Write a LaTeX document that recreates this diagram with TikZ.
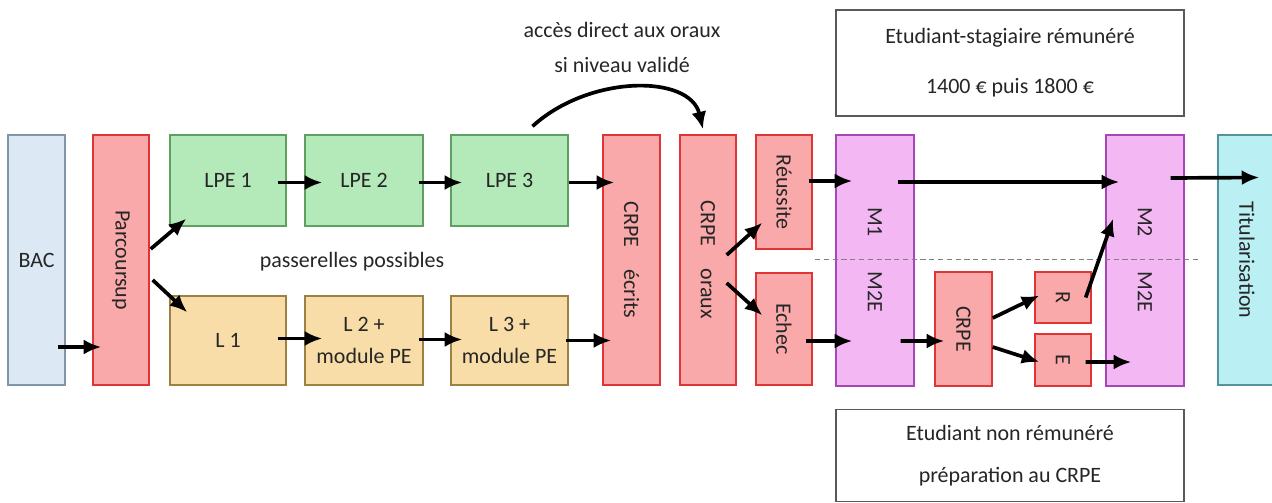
\documentclass[tikz,border=0pt]{standalone}
\usepackage{fontspec}
\setmainfont{Carlito}
\usetikzlibrary{calc,arrows.meta}
\definecolor{bacfill}{HTML}{DCE9F5}
\definecolor{bacline}{HTML}{8096A8}
\definecolor{redfill}{HTML}{F9A9A9}
\definecolor{redline}{HTML}{E03535}
\definecolor{greenfill}{HTML}{B4E9B9}
\definecolor{greenline}{HTML}{5F9F5F}
\definecolor{yellowfill}{HTML}{F8DDA8}
\definecolor{yellowline}{HTML}{9C8242}
\definecolor{mfill}{HTML}{F3B7F4}
\definecolor{mline}{HTML}{A547B5}
\definecolor{titfill}{HTML}{BAF0F4}
\definecolor{titline}{HTML}{55939A}
\definecolor{txt}{HTML}{262626}
\tikzset{
  box/.style={draw, line width=0.8pt, inner sep=0pt, align=center},
  bluebox/.style={box, draw=bacline, fill=bacfill},
  redbox/.style={box, draw=redline, fill=redfill},
  greenbox/.style={box, draw=greenline, fill=greenfill},
  yellowbox/.style={box, draw=yellowline, fill=yellowfill},
  mbox/.style={box, draw=mline, fill=mfill},
  titbox/.style={box, draw=titline, fill=titfill},
  plainbox/.style={box, draw=black!65, fill=white},
  vlabel/.style={label={[rotate=-90]center:#1}},
  flow/.style={-{Latex[length=10pt,width=8.5pt]}, line width=2.1pt},
}
\begin{document}
\begin{tikzpicture}[x=0.02cm,y=-0.02cm,font=\fontsize{12.5pt}{15pt}\selectfont,
  every node/.append style={text=txt}]
\useasboundingbox (0,0) rectangle (1272,503);
% left side
\node[bluebox, minimum width=1.14cm, minimum height=5cm] (bac) at (36.5,260) {BAC};
\node[redbox, minimum width=1.12cm, minimum height=5cm, vlabel=Parcoursup] (parc) at (121,260) {};
\node[greenbox, minimum width=2.32cm, minimum height=1.82cm] (lpe1) at (228,180.5) {LPE 1};
\node[greenbox, minimum width=2.36cm, minimum height=1.82cm] (lpe2) at (364,180.5) {LPE 2};
\node[greenbox, minimum width=2.34cm, minimum height=1.82cm] (lpe3) at (509.5,180.5) {LPE 3};
\node[yellowbox, minimum width=2.32cm, minimum height=1.78cm] (l1) at (228,340.5) {L 1};
\node[yellowbox, minimum width=2.36cm, minimum height=1.78cm] (l2) at (364,340.5) {L 2 +\\[3pt]module PE};
\node[yellowbox, minimum width=2.34cm, minimum height=1.78cm] (l3) at (509.5,340.5) {L 3 +\\[3pt]module PE};
\node (pass) at (352,262) {passerelles possibles};
% concours
\node[redbox, minimum width=1.14cm, minimum height=5cm, vlabel={CRPE\quad écrits}] (crpeE) at (631.5,260) {};
\node[redbox, minimum width=1.12cm, minimum height=5cm, vlabel={CRPE\quad oraux}] (crpeO) at (708,260) {};
\node[redbox, minimum width=1.12cm, minimum height=2.28cm, vlabel=Réussite] (reussite) at (784,192) {};
\node[redbox, minimum width=1.12cm, minimum height=2.24cm, vlabel=Echec] (echec) at (784,329) {};
\node[align=center] (direct) at (622,47.5) {accès direct aux oraux\\[5pt]si niveau validé};
% master
\node[plainbox, minimum width=6.96cm, minimum height=2.12cm] (paid) at (1010,63) {Etudiant-stagiaire rémunéré\\[13.5pt]1400 € puis 1800 €};
\node[plainbox, minimum width=6.96cm, minimum height=1.84cm] (unpaid) at (1010,455.5) {Etudiant non rémunéré\\[9pt]préparation au CRPE};
\node[mbox, minimum width=1.56cm, minimum height=5.02cm] (mcolA) at (875,260.5) {};
\node[rotate=-90] (m1) at (875,222) {M1};
\node[rotate=-90] (m2eA) at (875,292) {M2E};
\node[redbox, minimum width=1.14cm, minimum height=2.28cm, vlabel=CRPE] (crpeS) at (963.5,329) {};
\node[redbox, minimum width=1.12cm, minimum height=1.02cm, vlabel=R] (r) at (1063,297.5) {};
\node[redbox, minimum width=1.12cm, minimum height=1.04cm, vlabel=E] (e) at (1063,360) {};
\node[mbox, minimum width=1.56cm, minimum height=5.02cm] (mcolB) at (1145,260.5) {};
\node[rotate=-90] (m2) at (1145,222) {M2};
\node[rotate=-90] (m2eB) at (1145,292) {M2E};
\node[titbox, minimum width=1.16cm, minimum height=5cm, vlabel=Titularisation] (titul) at (1247,260) {};
\draw[gray, densely dashed, line width=0.5pt] (815,259) -- (1198,259);
% arrows
\draw[flow] ($(bac.east)+(-8,87)$) -- ($(parc.west)+(9,87)$);
\draw[flow] ($(parc.east)+(1,-11)$) -- ($(lpe1.south west)+(17,-8)$);
\draw[flow] ($(parc.east)+(3,20)$) -- ($(l1.north west)+(18,17)$);
\draw[flow] ($(lpe1.east)+(-9,2)$) -- ($(lpe2.west)+(18,2)$);
\draw[flow] ($(lpe2.east)+(-5,2)$) -- ($(lpe3.west)+(12,2)$);
\draw[flow] ($(lpe3.east)+(0,2)$) -- ($(crpeE.west |- lpe3.east)+(12,2)$);
\draw[flow] ($(l1.east)+(-9,-2)$) -- ($(l2.west)+(18,-2)$);
\draw[flow] ($(l2.east)+(-5,-1)$) -- ($(l3.west)+(12,-1)$);
\draw[flow] ($(l3.east)+(-3,0)$) -- ($(crpeE.west |- l3.east)+(9,0)$);
\draw[flow] ($(lpe3.north)+(23,-8)$) .. controls ($(lpe3.north)+(80,-60)$) and ($(crpeO.north)+(-18,-60)$) .. ($(crpeO.north)+(-5,-5)$);
\draw[flow] ($(crpeO.east)+(-10,-5)$) -- ($(reussite.south west)+(7,-27)$);
\draw[flow] ($(crpeO.east)+(-10,23)$) -- ($(echec.north west)+(7,43)$);
\draw[flow] ($(reussite.east)+(-4,-11)$) -- ($(mcolA.west |- reussite.east)+(17,-11)$);
\draw[flow] ($(echec.east)+(-7,12)$) -- ($(mcolA.west |- echec.east)+(17,12)$);
\draw[flow] ($(mcolA.east)+(-17,-78.5)$) -- ($(mcolB.west)+(14,-78.5)$);
\draw[flow] ($(mcolB.east)+(-14,-82.5)$) -- ($(titul.west)+(42,-82.5)$);
\draw[flow] ($(mcolA.east)+(-14,80.5)$) -- ($(crpeS.west)+(10,12)$);
\draw[flow] ($(crpeS.east)+(0,-11)$) -- ($(r.west)+(5,-2)$);
\draw[flow] ($(crpeS.east)+(0,18)$) -- ($(e.west)+(5,2)$);
\draw[flow] ($(r.east)+(-6,0)$) -- ($(mcolB.west)+(8,-42)$);
\draw[flow] ($(e.east)+(-6,2)$) -- ($(mcolB.west)+(26,101.5)$);
\end{tikzpicture}
\end{document}
